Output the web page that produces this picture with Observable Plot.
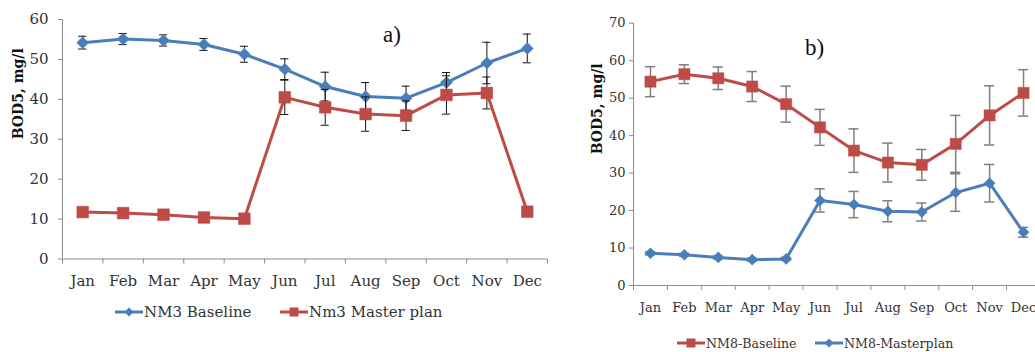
<!DOCTYPE html>
<html>
<head>
<meta charset="utf-8">
<script src="https://cdn.jsdelivr.net/npm/d3@7"></script>
<script src="https://cdn.jsdelivr.net/npm/@observablehq/plot@0.6"></script>
<style>
  html, body { margin: 0; padding: 0; background: #fff; }
  #wrap { position: relative; width: 1035px; height: 352px; overflow: hidden; font-family: "DejaVu Serif", serif; color: #333; }
  .leg { position: absolute; display: flex; align-items: center; height: 20px; white-space: nowrap; color: #333; }
  .leg svg { display: block; }
  .panel-label { position: absolute; font-family: "Liberation Serif", serif; font-size: 23px; color: #111; }
</style>
</head>
<body>
<div id="wrap"></div>
<script>
// ---- data ----
const months = ["Jan","Feb","Mar","Apr","May","Jun","Jul","Aug","Sep","Oct","Nov","Dec"];

// Panel a)
const nm3Baseline    = [54.2, 55.1, 54.75, 53.75, 51.3, 47.55, 43.2, 40.7, 40.3, 44.2, 49.1, 52.75];
const nm3BaselineErr = [1.6, 1.4, 1.4, 1.5, 2.0, 2.6, 3.6, 3.5, 3.0, 2.5, 5.2, 3.6];
const nm3Master      = [11.75, 11.5, 11.1, 10.4, 10.1, 40.5, 38.0, 36.3, 35.9, 41.1, 41.6, 11.85];
const nm3MasterErr   = [0.3, 0.3, 0.3, 0.3, 0.3, 4.3, 4.5, 4.3, 3.7, 4.8, 4.0, 0.3];

// Panel b)
const nm8Baseline    = [54.4, 56.4, 55.3, 53.1, 48.4, 42.2, 36.0, 32.8, 32.2, 37.8, 45.4, 51.4];
const nm8BaselineErr = [4.0, 2.5, 3.0, 4.0, 4.8, 4.8, 5.8, 5.2, 4.1, 7.6, 7.9, 6.2];
const nm8Master      = [8.6, 8.2, 7.5, 6.9, 7.1, 22.7, 21.6, 19.8, 19.6, 24.8, 27.3, 14.2];
const nm8MasterErr   = [0.4, 0.4, 0.4, 0.4, 0.4, 3.1, 3.5, 2.8, 2.4, 5.0, 5.0, 1.3];

const yTicksA = [0, 10, 20, 30, 40, 50, 60];
const yTicksB = [0, 10, 20, 30, 40, 50, 60, 70];

const BLUE = "#4a7ebb";
const RED  = "#be4b48";
const AXIS = "#8c8c8c";

function rows(vals, errs) {
  return vals.map((v, i) => ({x: i + 0.5, v, lo: v - errs[i], hi: v + errs[i]}));
}

function seriesMarks(data, color, symbol, r, errColor, errWidth, cap) {
  return [
    Plot.line(data, {x: "x", y: "v", stroke: color, strokeWidth: 3}),
    Plot.ruleX(data, {x: "x", y1: "lo", y2: "hi", stroke: errColor, strokeWidth: errWidth}),
    Plot.ruleY(data, {y: "hi", x1: d => d.x - cap, x2: d => d.x + cap, stroke: errColor, strokeWidth: errWidth}),
    Plot.ruleY(data, {y: "lo", x1: d => d.x - cap, x2: d => d.x + cap, stroke: errColor, strokeWidth: errWidth}),
    Plot.dot(data, {x: "x", y: "v", symbol, r, fill: color, stroke: color, strokeWidth: 0.5})
  ];
}

function panel(o) {
  return Plot.plot({
    width: o.width, height: o.height,
    marginLeft: o.ml, marginRight: o.mr, marginTop: o.mt, marginBottom: o.mb,
    style: {fontFamily: "DejaVu Serif, serif", fontSize: o.fs + "px", color: "#333", overflow: "visible", background: "transparent"},
    x: {domain: [0, 12]},
    y: {domain: o.ydomain},
    marks: [
      Plot.axisY({ticks: o.yticks, tickSize: 4, tickPadding: o.ytp, stroke: AXIS, fill: "#333", label: null}),
      Plot.axisX({ticks: d3.range(0, 13), tickSize: 5, tickFormat: () => "", stroke: AXIS, label: null}),
      Plot.axisX({ticks: d3.range(0.5, 12, 1), tickSize: 0, tickPadding: o.xtp, tickFormat: d => months[Math.floor(d)], fill: "#333", label: null}),
      Plot.ruleX([0], {stroke: AXIS}),
      Plot.ruleY([0], {stroke: AXIS}),
      Plot.text(["BOD5, mg/l"], {frameAnchor: "left", rotate: -90, dx: o.titleDx, fontWeight: "bold", fontSize: o.tfs, fill: "#111"}),
      ...o.marks
    ]
  });
}

const wrap = document.getElementById("wrap");

// Left panel a)
const dA1 = rows(nm3Baseline, nm3BaselineErr);
const dA2 = rows(nm3Master, nm3MasterErr);
const pA = panel({
  width: 560, height: 290, ml: 62, mr: 13, mt: 19, mb: 31.5, fs: 15, tfs: 14,
  ydomain: [0, 60], yticks: yTicksA, ytp: 10, xtp: 16, titleDx: -44,
  marks: [
    ...seriesMarks(dA1, BLUE, "diamond2", 5.4, "#111", 1, 0.1),
    ...seriesMarks(dA2, RED, "square", 6.6, "#111", 1, 0.1)
  ]
});
pA.style.position = "absolute"; pA.style.left = "0px"; pA.style.top = "0px";
wrap.appendChild(pA);

// Right panel b)
const dB1 = rows(nm8Baseline, nm8BaselineErr);
const dB2 = rows(nm8Master, nm8MasterErr);
const pB = panel({
  width: 480, height: 320, ml: 73, mr: 0, mt: 22.7, mb: 35, fs: 13, tfs: 14,
  ydomain: [0, 70], yticks: yTicksB, ytp: 4, xtp: 17, titleDx: -36,
  marks: [
    ...seriesMarks(dB2, BLUE, "diamond2", 5.0, "#7f7f7f", 1.5, 0.15),
    ...seriesMarks(dB1, RED, "square", 6.3, "#7f7f7f", 1.5, 0.15)
  ]
});
pB.style.position = "absolute"; pB.style.left = "560px"; pB.style.top = "0px";
wrap.appendChild(pB);

// panel labels
function label(txt, x, y) {
  const d = document.createElement("div");
  d.className = "panel-label";
  d.textContent = txt;
  d.style.left = x + "px"; d.style.top = y + "px";
  wrap.appendChild(d);
}
label("a)", 383, 22);
label("b)", 805, 35);

// legends
function legendItem(x, cy, color, symbol, text, fs) {
  const div = document.createElement("div");
  div.className = "leg";
  div.style.left = x + "px";
  div.style.top = (cy - 10) + "px";
  div.style.fontSize = fs + "px";
  const ns = "http://www.w3.org/2000/svg";
  const svg = document.createElementNS(ns, "svg");
  svg.setAttribute("width", 28); svg.setAttribute("height", 20);
  const ln = document.createElementNS(ns, "line");
  ln.setAttribute("x1", 0); ln.setAttribute("x2", 28); ln.setAttribute("y1", 10); ln.setAttribute("y2", 10);
  ln.setAttribute("stroke", color); ln.setAttribute("stroke-width", 3);
  svg.appendChild(ln);
  let m;
  if (symbol === "square") {
    m = document.createElementNS(ns, "rect");
    m.setAttribute("x", 9.5); m.setAttribute("y", 5.5); m.setAttribute("width", 9); m.setAttribute("height", 9);
  } else {
    m = document.createElementNS(ns, "path");
    m.setAttribute("d", "M14,5.5 L18.5,10 L14,14.5 L9.5,10 Z");
  }
  m.setAttribute("fill", color);
  svg.appendChild(m);
  div.appendChild(svg);
  const t = document.createElement("span");
  t.textContent = text;
  t.style.marginLeft = "1px";
  div.appendChild(t);
  wrap.appendChild(div);
}
legendItem(115, 312, BLUE, "diamond", "NM3 Baseline", 15);
legendItem(280, 312, RED, "square", "Nm3 Master plan", 15);
legendItem(677, 343, RED, "square", "NM8-Baseline", 12.6);
legendItem(815, 343, BLUE, "diamond", "NM8-Masterplan", 12.6);
</script>
</body>
</html>
